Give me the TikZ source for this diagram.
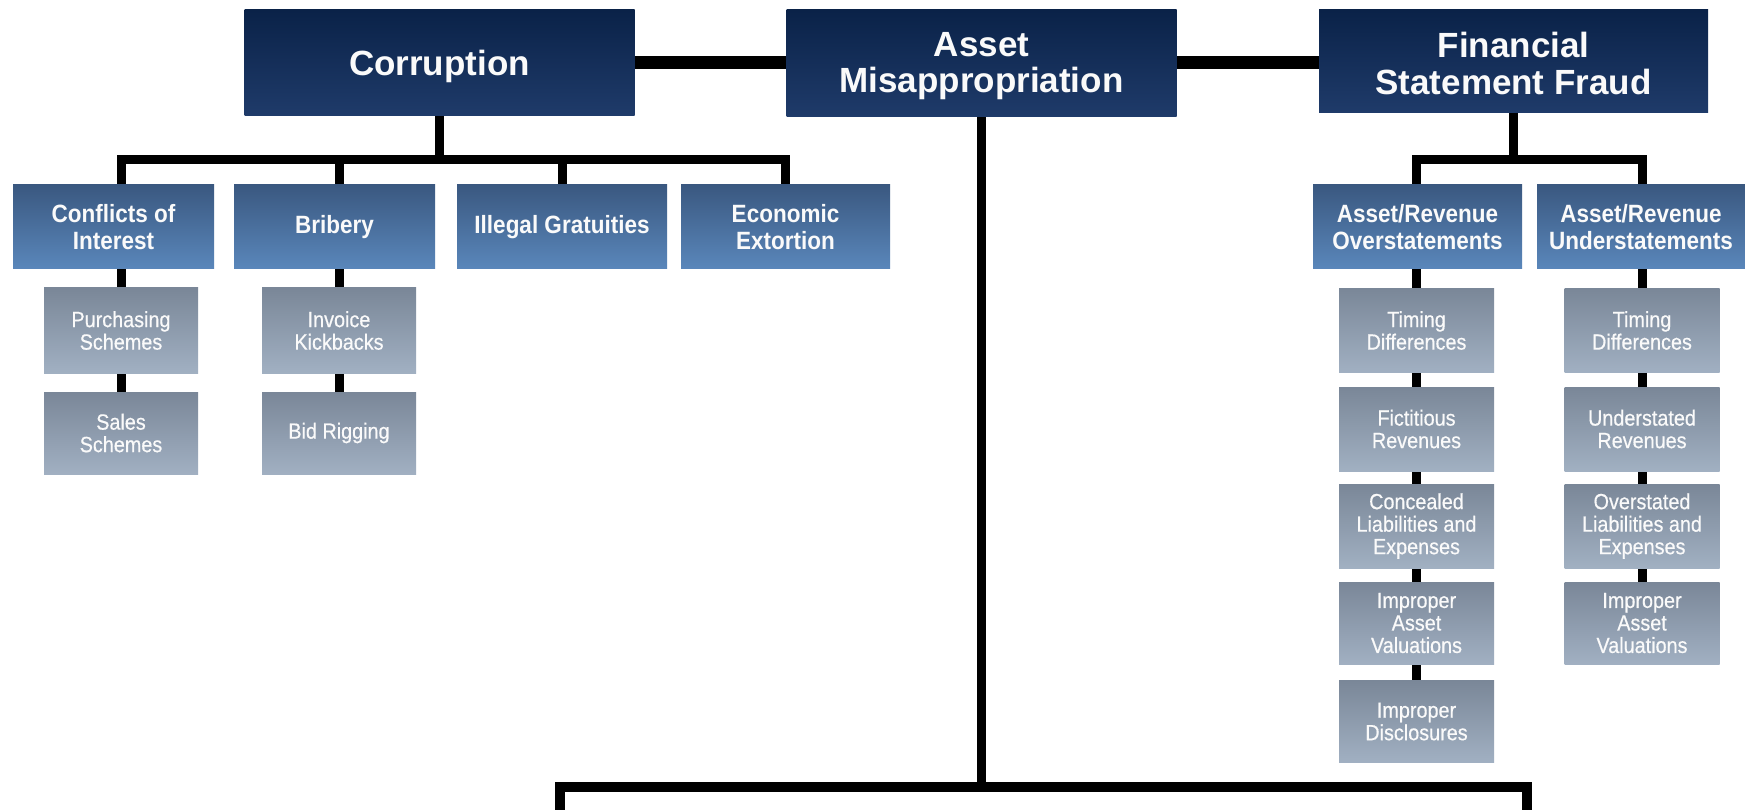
\documentclass[tikz,border=0pt]{standalone}
\usepackage{fontspec}
\setmainfont{Liberation Sans}
\newfontfamily\condfont[FakeStretch=0.9]{Liberation Sans}
\newfontfamily\graycondfont[FakeStretch=0.9,FakeBold=0.5]{Liberation Sans}
\usetikzlibrary{backgrounds}
\definecolor{navytop}{RGB}{10,34,72}
\definecolor{navybot}{RGB}{31,59,106}
\definecolor{midtop}{RGB}{58,88,128}
\definecolor{midbot}{RGB}{90,135,187}
\definecolor{graytop}{RGB}{122,135,152}
\definecolor{graybot}{RGB}{161,176,194}
\definecolor{txtwhite}{RGB}{250,250,250}
\tikzset{
  topbox/.style={rectangle, inner sep=0pt, top color=navytop, bottom color=navybot,
    text=txtwhite, align=center, font=\fontsize{35}{36.5}\selectfont\bfseries},
  midbox/.style={rectangle, inner sep=0pt, top color=midtop, bottom color=midbot,
    text=txtwhite, align=center, font=\condfont\fontsize{25}{27}\selectfont\bfseries},
  graybox/.style={rectangle, inner sep=0pt, top color=graytop, bottom color=graybot,
    text=txtwhite, align=center, minimum width=155pt, minimum height=84pt,
    font=\graycondfont\fontsize{22}{22.5}\selectfont},
  thickbar/.style={line width=13pt, black},
  tree/.style={line width=9pt, black, line cap=butt, line join=miter},
  lowtree/.style={line width=10pt, black, line cap=butt, line join=miter}
}
\begin{document}
\begin{tikzpicture}[x=1pt,y=-1pt]
\useasboundingbox (0,0) rectangle (1745,810);
% top level
\node[topbox, minimum width=390pt, minimum height=106pt] (corr) at (439.5,63) {\raisebox{-13pt}[0pt][0pt]{Corruption}};
\node[topbox, minimum width=390pt, minimum height=107pt] (asset) at (981.5,63.5) {\rule{0pt}{29pt}Asset\\Misappropriation};
\node[topbox, minimum width=389pt, minimum height=103pt] (fsf) at (1513.5,61.5) {\rule{0pt}{29pt}Financial\\Statement Fraud};
% second level
\node[midbox, minimum width=201pt, minimum height=84pt] (coi) at (113.5,227) {Conflicts of\\Interest};
\node[midbox, minimum width=201pt, minimum height=84pt] (brib) at (334.5,227) {Bribery};
\node[midbox, minimum width=210pt, minimum height=84pt] (illeg) at (562,227) {Illegal Gratuities};
\node[midbox, minimum width=209pt, minimum height=84pt] (econ) at (785.5,227) {Economic\\Extortion};
\node[midbox, minimum width=209pt, minimum height=84pt] (over) at (1417.5,227) {Asset/Revenue\\Overstatements};
\node[midbox, minimum width=208pt, minimum height=84pt] (under) at (1641,227) {Asset/Revenue\\Understatements};
% third level left
\node[graybox, minimum width=154pt, minimum height=85pt] (purch) at (121,330.5) {Purchasing\\Schemes};
\node[graybox, minimum width=154pt, minimum height=82pt] (sales) at (121,433) {Sales\\Schemes};
\node[graybox, minimum width=154pt, minimum height=85pt] (invoice) at (339,330.5) {Invoice\\Kickbacks};
\node[graybox, minimum width=154pt, minimum height=82pt] (bid) at (339,433) {Bid Rigging};
% third level right, overstatements
\node[graybox] (ot) at (1416.5,330.5) {Timing\\Differences};
\node[graybox] (of) at (1416.5,429) {Fictitious\\Revenues};
\node[graybox] (oc) at (1416.5,526) {Concealed\\Liabilities and\\Expenses};
\node[graybox, minimum height=82pt] (oi) at (1416.5,623) {Improper\\Asset\\Valuations};
\node[graybox, minimum height=82pt] (od) at (1416.5,721.5) {Improper\\Disclosures};
% third level right, understatements
\node[graybox] (ut) at (1642,330.5) {Timing\\Differences};
\node[graybox] (ur) at (1642,429) {Understated\\Revenues};
\node[graybox] (uo) at (1642,526) {Overstated\\Liabilities and\\Expenses};
\node[graybox, minimum height=82pt] (ui) at (1642,623) {Improper\\Asset\\Valuations};
% helper coordinates
\coordinate (toprow) at (0,62.5);
\coordinate (cbar) at (439.5,160);
\coordinate (fbar) at (1513.5,160);
\coordinate (abl) at (560,787);
\coordinate (abr) at (1527,787);
\coordinate (aleft) at (560,816);
\coordinate (aright) at (1527,816);
\begin{scope}[on background layer]
\fill[white] (0,0) rectangle (1745,810);
\draw[thickbar] (corr.east |- toprow) -- (asset.west |- toprow);
\draw[thickbar] (asset.east |- toprow) -- (fsf.west |- toprow);
% corruption tree
\draw[tree] (corr.south) -- (cbar);
\draw[tree] (purch.north |- coi.north) |- (cbar) -| (econ.north);
\draw[tree] (invoice.north |- brib.north) -- (invoice.north |- cbar);
\draw[tree] (illeg.north) -- (illeg.north |- cbar);
\draw[tree] (purch.north |- coi.south) -- (purch.north);
\draw[tree] (purch.south) -- (sales.north);
\draw[tree] (invoice.north |- brib.south) -- (invoice.north);
\draw[tree] (invoice.south) -- (bid.north);
% financial statement fraud tree
\draw[tree] (fsf.south) -- (fbar);
\draw[tree] (ot.north |- over.north) |- (fbar) -| (ut.north |- under.north);
\draw[tree] (ot.north |- over.south) -- (ot.north);
\draw[tree] (ot.south) -- (of.north);
\draw[tree] (of.south) -- (oc.north);
\draw[tree] (oc.south) -- (oi.north);
\draw[tree] (oi.south) -- (od.north);
\draw[tree] (ut.north |- under.south) -- (ut.north);
\draw[tree] (ut.south) -- (ur.north);
\draw[tree] (ur.south) -- (uo.north);
\draw[tree] (uo.south) -- (ui.north);
% asset misappropriation tree
\draw[tree] (asset.south) -- (asset.south |- abl);
\draw[lowtree] (aleft) -- (abl) -- (abr) -- (aright);
\end{scope}
\end{tikzpicture}
\end{document}
